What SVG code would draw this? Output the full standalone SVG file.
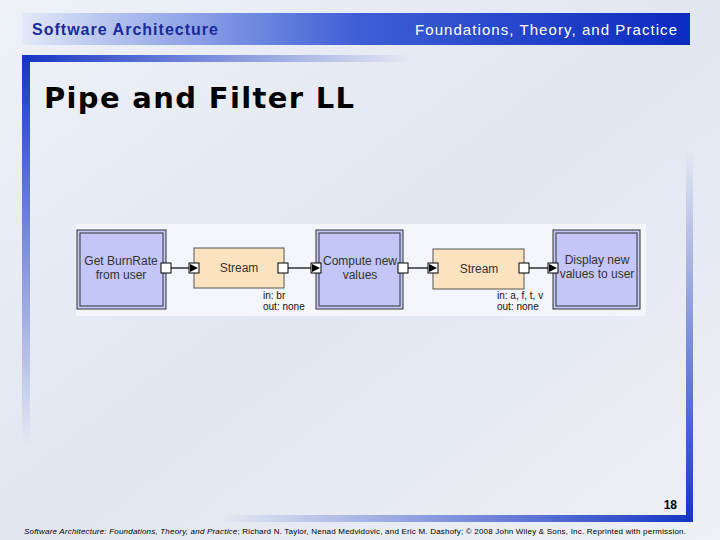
<svg xmlns="http://www.w3.org/2000/svg" width="720" height="540" viewBox="0 0 720 540">
<defs>
<linearGradient id="hdr" x1="0" y1="0" x2="1" y2="0"><stop offset="0" stop-color="#e4e9f7"/><stop offset="0.12" stop-color="#b8c6ee"/><stop offset="0.5" stop-color="#3f5fd6"/><stop offset="1" stop-color="#0a2bbf"/></linearGradient>
<linearGradient id="top" x1="0" y1="0" x2="1" y2="0"><stop offset="0" stop-color="#1535c4"/><stop offset="1" stop-color="#1535c4" stop-opacity="0"/></linearGradient>
<linearGradient id="left" x1="0" y1="0" x2="0" y2="1"><stop offset="0" stop-color="#1535c4"/><stop offset="1" stop-color="#1535c4" stop-opacity="0"/></linearGradient>
<linearGradient id="right" x1="0" y1="1" x2="0" y2="0"><stop offset="0" stop-color="#1535c4"/><stop offset="1" stop-color="#1535c4" stop-opacity="0"/></linearGradient>
<linearGradient id="bot" x1="1" y1="0" x2="0" y2="0"><stop offset="0" stop-color="#1535c4"/><stop offset="1" stop-color="#1535c4" stop-opacity="0"/></linearGradient>
<linearGradient id="bg" x1="0" y1="0" x2="1" y2="1"><stop offset="0" stop-color="#eef1f8"/><stop offset="0.5" stop-color="#e2e6f0"/><stop offset="1" stop-color="#eef0f6"/></linearGradient>
</defs>
<style>
.comp{fill:#c3c6f7;stroke:#333;stroke-width:1}
.compin{fill:none;stroke:#333;stroke-width:1}
.conn{fill:#fbe3bf;stroke:#555;stroke-width:1}
.port{fill:#fff;stroke:#000;stroke-width:1}
.t{font-family:Arial,"Liberation Sans",sans-serif;font-size:12px;fill:#333;text-anchor:middle}
.s{font-family:Arial,"Liberation Sans",sans-serif;font-size:10px;fill:#111}
.line{stroke:#000;stroke-width:1.2;fill:none}
</style>
<rect width="720" height="540" fill="url(#bg)"/>
<rect x="22" y="13" width="668" height="32" fill="url(#hdr)"/>
<text x="32" y="35" font-family="Arial,'Liberation Sans',sans-serif" font-size="16" font-weight="bold" fill="#1a2a9a" textLength="186">Software Architecture</text>
<text x="415" y="35" font-family="Arial,'Liberation Sans',sans-serif" font-size="15" fill="#fff" textLength="262">Foundations, Theory, and Practice</text>
<rect x="22" y="55" width="390" height="7" fill="url(#top)"/>
<rect x="22" y="55" width="8" height="390" fill="url(#left)"/>
<rect x="686" y="150" width="7" height="372" fill="url(#right)"/>
<rect x="220" y="515" width="473" height="7" fill="url(#bot)"/>
<text x="44" y="108" font-family="'DejaVu Sans',Verdana,sans-serif" font-size="29" font-weight="bold" fill="#000" textLength="310">Pipe and Filter LL</text>
<rect x="76" y="224" width="570" height="92" fill="#f4f5fa"/>
<g id="connectors">
<line class="line" x1="171" y1="268" x2="189" y2="268"/>
<line class="line" x1="288" y1="268" x2="311" y2="268"/>
<line class="line" x1="408" y1="268" x2="428" y2="268"/>
<line class="line" x1="529" y1="268" x2="548" y2="268"/>
</g>
<g id="getburnrate">
<rect class="comp" x="77" y="230" width="89" height="79"/><rect class="compin" x="80" y="233" width="83" height="73"/>
<text class="t" x="121" y="265">Get BurnRate</text><text class="t" x="121" y="279">from user</text>
<rect class="port" x="161" y="263" width="10" height="10"/>
</g>
<g id="stream1">
<rect class="conn" x="194" y="248" width="90" height="40"/>
<text class="t" x="239" y="272">Stream</text>
<rect class="port" x="189" y="263" width="10" height="10"/><path d="M190,264 L198,268 L190,272 Z"/>
<rect class="port" x="278" y="263" width="10" height="10"/>
<text class="s" x="263" y="299">in: br</text><text class="s" x="263" y="310">out: none</text>
</g>
<g id="compute">
<rect class="comp" x="316" y="230" width="87" height="79"/><rect class="compin" x="319" y="233" width="81" height="73"/>
<text class="t" x="360" y="265">Compute new</text><text class="t" x="360" y="279">values</text>
<rect class="port" x="311" y="263" width="10" height="10"/><path d="M312,264 L320,268 L312,272 Z"/>
<rect class="port" x="398" y="263" width="10" height="10"/>
</g>
<g id="stream2">
<rect class="conn" x="433" y="249" width="91" height="40"/>
<text class="t" x="479" y="273">Stream</text>
<rect class="port" x="428" y="263" width="10" height="10"/><path d="M429,264 L437,268 L429,272 Z"/>
<rect class="port" x="519" y="263" width="10" height="10"/>
<text class="s" x="497" y="299">in: a, f, t, v</text><text class="s" x="497" y="310">out: none</text>
</g>
<g id="display">
<rect class="comp" x="553" y="230" width="87" height="79"/><rect class="compin" x="556" y="233" width="81" height="73"/>
<text class="t" x="597" y="264">Display new</text><text class="t" x="597" y="278">values to user</text>
<rect class="port" x="548" y="263" width="10" height="10"/><path d="M549,264 L557,268 L549,272 Z"/>
</g>
<text x="677" y="509" text-anchor="end" font-family="Arial,'Liberation Sans',sans-serif" font-size="12" font-weight="bold" fill="#000">18</text>
<text x="24" y="534" font-family="Arial,'Liberation Sans',sans-serif" font-size="8" fill="#000" textLength="662"><tspan font-style="italic">Software Architecture: Foundations, Theory, and Practice</tspan>; Richard N. Taylor, Nenad Medvidovic, and Eric M. Dashofy; © 2008 John Wiley &amp; Sons, Inc. Reprinted with permission.</text>
</svg>
